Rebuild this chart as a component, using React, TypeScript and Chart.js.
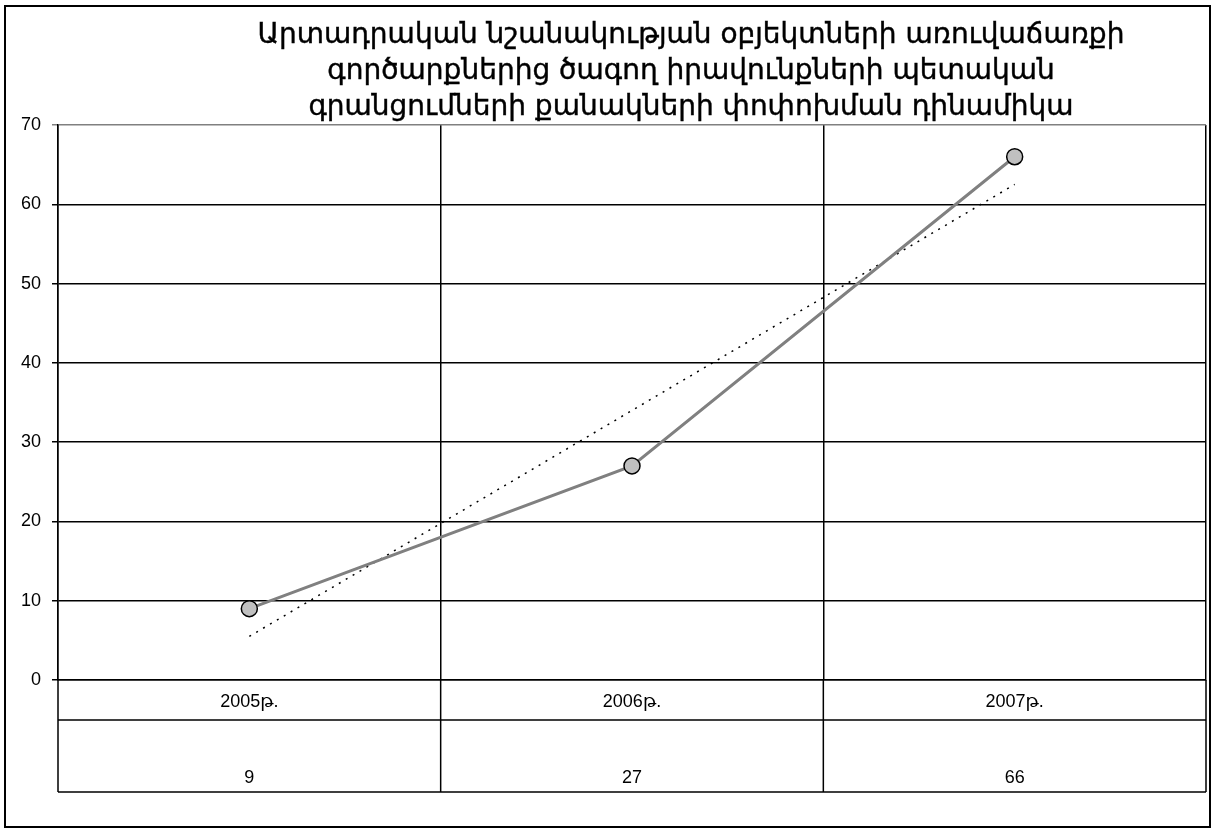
import React, { useEffect, useRef } from "react";
import { Chart, registerables } from "chart.js";

Chart.register(...registerables);

const titleLines = [
  "Արտադրական նշանակության օբյեկտների առուվաճառքի",
  "գործարքներից ծագող իրավունքների պետական",
  "գրանցումների քանակների փոփոխման դինամիկա",
];
const categories = ["2005թ.", "2006թ.", "2007թ."];
const registrations = [9, 27, 66];
const trendValues = [5.5, 34, 62.5];
const yMin = 0;
const yMax = 70;
const yStep = 10;

const W = 1216;
const H = 831;

const framePlugin = {
  id: "frameAndTable",
  afterDraw(chart: any) {
    const ctx = chart.ctx;
    const area = chart.chartArea;
    const xs = chart.scales.x;
    const tableBottom = 792;
    const rowSplit = area.bottom + 40;
    ctx.save();
    // outer frame
    ctx.strokeStyle = "#000";
    ctx.lineWidth = 2;
    ctx.strokeRect(5, 6, W - 11, H - 10);
    // title
    ctx.fillStyle = "#000";
    ctx.font = "28px 'DejaVu Sans', sans-serif";
    ctx.textAlign = "center";
    ctx.textBaseline = "alphabetic";
    ctx.strokeStyle = "#000";
    ctx.lineWidth = 0.4;
    titleLines.forEach((t, i) => {
      ctx.fillText(t, 691, 43 + i * 36);
      ctx.strokeText(t, 691, 43 + i * 36);
    });
    // table lines
    ctx.lineWidth = 1.5;
    ctx.strokeStyle = "#000";
    ctx.beginPath();
    ctx.moveTo(area.left, rowSplit);
    ctx.lineTo(area.right, rowSplit);
    ctx.moveTo(area.left, tableBottom);
    ctx.lineTo(area.right, tableBottom);
    const n = categories.length;
    const half = (xs.getPixelForValue(1) - xs.getPixelForValue(0)) / 2;
    for (let i = 0; i <= n; i++) {
      const x = i === 0 ? area.left : i === n ? area.right : xs.getPixelForValue(i) - half;
      ctx.moveTo(x, area.bottom);
      ctx.lineTo(x, tableBottom);
    }
    ctx.stroke();
    // value row
    ctx.font = "18px 'Liberation Sans', Arial, sans-serif";
    ctx.textAlign = "center";
    ctx.textBaseline = "middle";
    registrations.forEach((v, i) => {
      ctx.fillText(String(v), xs.getPixelForValue(i), 778);
    });
    ctx.restore();
  },
};

export default function App() {
  const ref = useRef<HTMLCanvasElement>(null);
  useEffect(() => {
    if (!ref.current) return;
    const chart = new Chart(ref.current, {
      type: "line",
      data: {
        labels: categories,
        datasets: [
          {
            label: "trend",
            data: trendValues,
            borderColor: "#000",
            borderWidth: 1.5,
            borderDash: [2, 6],
            pointRadius: 0,
            fill: false,
            order: 2,
          },
          {
            label: "registrations",
            data: registrations,
            borderColor: "#808080",
            borderWidth: 3,
            pointRadius: 8,
            pointBackgroundColor: "#C0C0C0",
            pointBorderColor: "#000",
            pointBorderWidth: 1.5,
            fill: false,
            order: 1,
          },
        ],
      },
      options: {
        responsive: false,
        animation: false,
        layout: { padding: { left: 0, right: 10, top: 125, bottom: 39 } },
        plugins: {
          legend: { display: false },
          title: { display: false },
          tooltip: { enabled: false },
        },
        scales: {
          x: {
            offset: true,
            afterFit: (s: any) => {
              s.height = 112;
            },
            grid: {
              offset: true,
              drawTicks: false,
              color: (c: any) => (c.index === 3 ? "#808080" : "#000"),
              lineWidth: 1.5,
            },
            border: { color: "#000", width: 1.5 },
            ticks: {
              padding: 11,
              color: "#000",
              font: { family: "'Liberation Sans', Arial, 'DejaVu Sans', sans-serif", size: 18 },
            },
          },
          y: {
            min: yMin,
            max: yMax,
            afterFit: (s: any) => {
              s.width = 58;
            },
            grid: {
              color: (c: any) => (c.tick && c.tick.value === yMax ? "#808080" : "#000"),
              lineWidth: 1.5,
              tickLength: 6,
            },
            border: { color: "#000", width: 1.5 },
            ticks: {
              stepSize: yStep,
              padding: 11,
              color: "#000",
              font: { family: "'Liberation Sans', Arial, sans-serif", size: 18 },
            },
          },
        },
      },
      plugins: [framePlugin],
    });
    return () => chart.destroy();
  }, []);
  return (
    <div style={{ position: "absolute", left: 0, top: 0, width: W, height: H, background: "#fff" }}>
      <canvas ref={ref} width={W} height={H} style={{ display: "block" }} />
    </div>
  );
}
